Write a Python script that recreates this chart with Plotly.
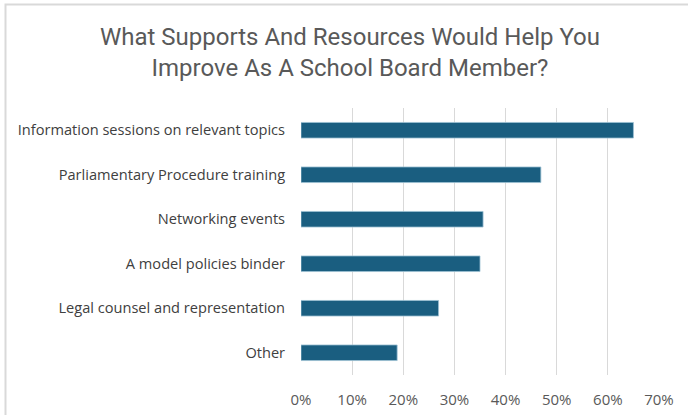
import plotly.graph_objects as go

# Survey responses: share of board members choosing each option (%)
categories = [
    "Information sessions on relevant topics",
    "Parliamentary Procedure training",
    "Networking events",
    "A model policies binder",
    "Legal counsel and representation",
    "Other",
]
values = [65.0, 46.9, 35.6, 35.0, 26.9, 18.8]
tick_values = [0, 10, 20, 30, 40, 50, 60, 70]
tick_labels = ["0%", "10%", "20%", "30%", "40%", "50%", "60%", "70%"]
title_text = "What Supports And Resources Would Help You<br>Improve As A School Board Member?"

W, H = 688, 415
L, R, T, B = 301, 29, 108, 40
pw = W - L - R
ph = H - T - B

fig = go.Figure(
    go.Bar(
        x=values,
        y=categories,
        orientation="h",
        width=0.35,
        marker=dict(color="#1a5e80", line=dict(color="#9cc0d3", width=0.8)),
        hoverinfo="x+y",
    )
)

fig.update_layout(
    width=W,
    height=H,
    margin=dict(l=L, r=R, t=T, b=B),
    paper_bgcolor="white",
    plot_bgcolor="white",
    showlegend=False,
    font=dict(family="Open Sans, sans-serif", color="#595959"),
    xaxis=dict(
        range=[0, 70],
        tickvals=tick_values,
        ticktext=tick_labels,
        showgrid=True,
        gridcolor="#d9d9d9",
        gridwidth=1,
        zeroline=False,
        showline=False,
        ticks="outside",
        ticklen=11,
        tickcolor="rgba(0,0,0,0)",
        tickfont=dict(size=15, color="#595959"),
        automargin=False,
        fixedrange=True,
    ),
    yaxis=dict(
        categoryorder="array",
        categoryarray=categories[::-1],
        showgrid=False,
        zeroline=False,
        showline=False,
        ticks="outside",
        ticklen=12,
        tickcolor="rgba(0,0,0,0)",
        tickfont=dict(size=14.6, color="#404040"),
        automargin=False,
        fixedrange=True,
    ),
)

# Two-line chart title
fig.add_annotation(
    text=title_text,
    xref="paper",
    yref="paper",
    x=(350 - L) / pw,
    y=1 + (T - 21) / ph,
    xanchor="center",
    yanchor="top",
    showarrow=False,
    align="center",
    font=dict(size=24, color="#595959", family="Roboto, sans-serif"),
)

# Light frame around the chart area (runs off the right and bottom edges)
fig.add_shape(
    type="rect",
    xref="paper",
    yref="paper",
    x0=(5.5 - L) / pw,
    x1=(W + 10 - L) / pw,
    y0=-(B + 10) / ph,
    y1=1 + (T - 4.5) / ph,
    line=dict(color="#d9d9d9", width=2),
    layer="below",
)

fig.write_html("out.html")
